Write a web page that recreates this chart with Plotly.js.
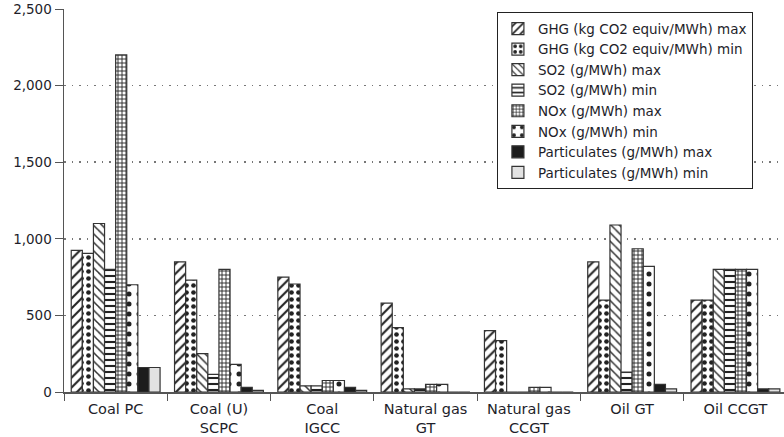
<!DOCTYPE html>
<html>
<head>
<meta charset="utf-8">
<script src="https://cdn.plot.ly/plotly-3.0.1.min.js"></script>
<style>html,body{margin:0;padding:0;background:#fff;}#chart{width:784px;height:437px;}</style>
</head>
<body>
<div id="chart"></div>
<script>
const categories = ["Coal PC", "Coal (U)<br>SCPC", "Coal<br>IGCC", "Natural gas<br>GT", "Natural gas<br>CCGT", "Oil GT", "Oil CCGT"];
const ghgMax  = [925, 850, 750, 580, 400, 850, 600];
const ghgMin  = [905, 730, 705, 420, 335, 600, 600];
const so2Max  = [1100, 250, 40, 20, 0, 1090, 800];
const so2Min  = [800, 115, 40, 20, 0, 130, 800];
const noxMax  = [2200, 800, 75, 50, 30, 935, 800];
const noxMin  = [700, 180, 75, 50, 30, 820, 800];
const partMax = [160, 30, 30, 0, 0, 50, 20];
const partMin = [160, 10, 10, 0, 0, 20, 20];
const seriesNames = [
  "GHG (kg CO2 equiv/MWh) max",
  "GHG (kg CO2 equiv/MWh) min",
  "SO2 (g/MWh) max",
  "SO2 (g/MWh) min",
  "NOx (g/MWh) max",
  "NOx (g/MWh) min",
  "Particulates (g/MWh) max",
  "Particulates (g/MWh) min"
];
const seriesValues = [ghgMax, ghgMin, so2Max, so2Min, noxMax, noxMin, partMax, partMin];

const styles = [
  {color: "#ffffff", pattern: {shape: "/", fgcolor: "#222", bgcolor: "#fff", size: 7, solidity: 0.3}},
  {color: "#ffffff", pattern: {shape: ".", fgcolor: "#222", bgcolor: "#fff", size: 7, solidity: 0.35}},
  {color: "#ffffff", pattern: {shape: "\\", fgcolor: "#333", bgcolor: "#fff", size: 6, solidity: 0.25}},
  {color: "#ffffff", pattern: {shape: "-", fgcolor: "#222", bgcolor: "#fff", size: 6, solidity: 0.35}},
  {color: "#ffffff", pattern: {shape: "+", fgcolor: "#222", bgcolor: "#fff", size: 4, solidity: 0.4}},
  {color: "#ffffff", pattern: {shape: ".", fgcolor: "#222", bgcolor: "#fff", size: 10, solidity: 0.2}},
  {color: "#1c1c1c", pattern: null},
  {color: "#e2e2e2", pattern: null}
];

const traces = seriesNames.map((name, i) => {
  const m = {color: styles[i].color, line: {color: "#333", width: 1.2}};
  if (styles[i].pattern) m.pattern = styles[i].pattern;
  return {type: "bar", name: name, x: categories, y: seriesValues[i], marker: m};
});

const txt = "#1e1e2a";
const layout = {
  width: 784, height: 437,
  margin: {l: 64, r: 0, t: 9, b: 45},
  paper_bgcolor: "#fff", plot_bgcolor: "#fff",
  barmode: "group", bargap: 0.14, bargroupgap: 0,
  font: {family: "DejaVu Sans, Arial, sans-serif", size: 13, color: txt},
  xaxis: {
    range: [-0.5, 6.47], showline: true, linecolor: "#555", linewidth: 1.5,
    ticks: "outside", tickson: "boundaries", ticklen: 7, tickcolor: "#555",
    showgrid: false, tickfont: {size: 14.5, color: txt}, automargin: false,
    ticklabelstandoff: 3
  },
  yaxis: {
    range: [0, 2500], tickvals: [0, 500, 1000, 1500, 2000, 2500],
    ticktext: ["0", "500", "1,000", "1,500", "2,000", "2,500"],
    showline: true, linecolor: "#555", linewidth: 1.5,
    ticks: "outside", ticklen: 8, tickcolor: "#555",
    showgrid: true, gridcolor: "#777", griddash: "1.5px,6px", gridwidth: 1.5,
    zeroline: false, tickfont: {size: 13.5, color: txt}, automargin: false
  },
  legend: {
    x: 0.601, y: 0.992, xanchor: "left", yanchor: "top",
    bgcolor: "#fff", bordercolor: "#222", borderwidth: 1.2,
    font: {size: 13.5, color: txt}, tracegroupgap: 0, itemwidth: 30,
    entrywidth: 248, entrywidthmode: "pixels"
  },
  showlegend: true
};

Plotly.newPlot("chart", traces, layout, {displayModeBar: false, staticPlot: true});
</script>
</body>
</html>
